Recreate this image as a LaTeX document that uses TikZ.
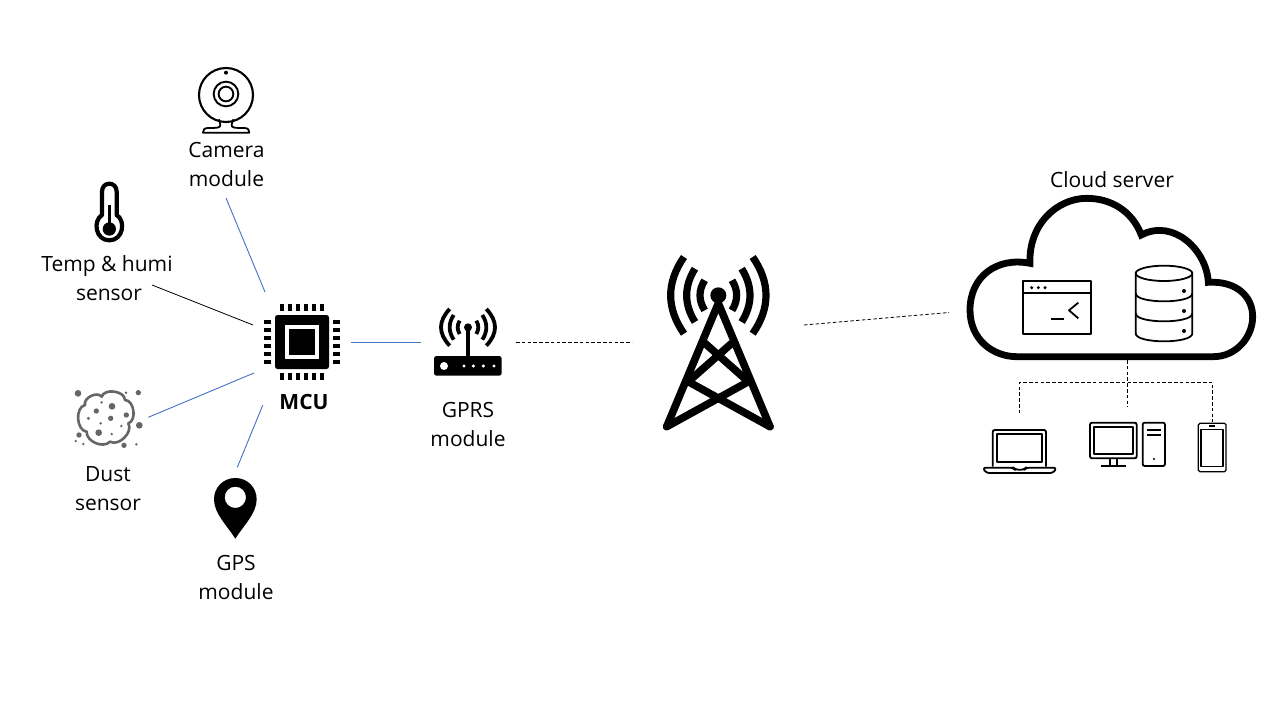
\documentclass[tikz,border=0pt]{standalone}
\usepackage{fontspec}
\setmainfont{Open Sans}
\definecolor{linkblue}{HTML}{4472C4}
\definecolor{dustgray}{HTML}{666666}
\tikzset{
  x=1pt,y=-1pt,
  zoomed/.style={shift={(#1)},x=0.33333pt,y=-0.33333pt},
  label/.style={align=center,inner sep=0pt,font=\fontsize{21}{29}\selectfont},
  bluelink/.style={draw=linkblue,line width=0.9pt},
  blacklink/.style={draw=black,line width=0.8pt},
  dashlink/.style={draw=black,line width=0.8pt,dash pattern=on 3.6pt off 2.2pt},
  thinicon/.style={draw=black,line width=1.8pt,line join=round},
}
\newcommand{\wavepair}[5]{% cx, cy, end dx, end dy, apex offset
  \pgfmathsetmacro{\wc}{#3+4/3*(#5-#3)}
  \pgfmathsetmacro{\wy}{#4/3}
  \draw (#1-#3,#2-#4) .. controls (#1-\wc,#2-\wy) and (#1-\wc,#2+\wy) .. (#1-#3,#2+#4);
  \draw (#1+#3,#2-#4) .. controls (#1+\wc,#2-\wy) and (#1+\wc,#2+\wy) .. (#1+#3,#2+#4);
}
\begin{document}
\begin{tikzpicture}
\useasboundingbox (0,0) rectangle (1280,720);
\fill[white] (0,0) rectangle (1280,720);

% ---- labels
\node[label] (lcamera) at (226.5,164) {Camera\\module};
\node[label] (ltemp) at (107,278.5) {Temp \& humi\\\hspace*{4pt}sensor};
\node[label] (ldust) at (108,489) {Dust\\sensor};
\node[label] (lgps) at (236,577) {GPS\\module};
\node[label] (lgprs) at (468,424) {GPRS\\module};
\node[label,font=\fontsize{21}{29}\selectfont\bfseries] (lmcu) at (304,401.5) {MCU};
\node[label] (lcloud) at (1112,180) {Cloud server};

% ---- connector ends
\coordinate (camE) at (226,198);
\coordinate (camM) at (265,292);
\coordinate (tempE) at (152,285);
\coordinate (tempM) at (253,325);
\coordinate (dustE) at (148.3,417.3);
\coordinate (dustM) at (254,373);
\coordinate (gpsE) at (237.3,467.3);
\coordinate (gpsM) at (262.7,405.3);
\coordinate (mcuR) at (351,342.5);
\coordinate (gprsL) at (421,342.5);
\coordinate (gprsR) at (516,342.5);
\coordinate (towerL) at (632,342.5);
\coordinate (towerR) at (804,325);
\coordinate (cloudL) at (949,312.5);
\coordinate (cloudB) at (1127.7,360);
\coordinate (pcT) at (1127.7,406.7);
\coordinate (lapC) at (1019.3,382.3);
\coordinate (lapT) at (1019.3,413.3);
\coordinate (phoC) at (1212.3,382.3);
\coordinate (phoT) at (1212.3,421.7);

\draw[bluelink] (camE) -- (camM);
\draw[blacklink] (tempE) -- (tempM);
\draw[bluelink] (dustE) -- (dustM);
\draw[bluelink] (gpsE) -- (gpsM);
\draw[bluelink] (mcuR) -- (gprsL);
\draw[dashlink] (gprsR) -- (towerL);
\draw[dashlink] (towerR) -- (cloudL);
\draw[dashlink] (cloudB) -- (pcT);
\draw[dashlink] (lapT) -- (lapC) -- (phoC) -- (phoT);

% ---- camera
\begin{scope}[zoomed={20,50}]
  \draw[line width=2.1pt] (618,135) circle (81);
  \draw[line width=1.9pt] (618,132) circle (37);
  \draw[line width=1.9pt] (618,132) circle (22);
  \fill (618,68) circle (6);
  \draw[line width=1.8pt,line join=round] (597,208) -- (601,224) .. controls (602,234) and (590,234) .. (565,234)
     .. controls (552,234) and (549,240) .. (549,248) -- (688,248)
     .. controls (688,240) and (685,234) .. (672,234) .. controls (645,234) and (633,234) .. (635,224) -- (640,208);
\end{scope}

% ---- thermometer
\begin{scope}[zoomed={20,50}]
  \draw[line width=4.2pt,line join=round] (246,495) -- (246,425) .. controls (246,393) and (290,393) .. (290,425) -- (290,495)
    .. controls (318,512) and (310,571) .. (268,571) .. controls (226,571) and (218,512) .. (246,495) -- cycle;
  \draw[line width=2.4pt] (268,465) -- (268,530);
  \fill (268,537) circle (20);
\end{scope}

% ---- MCU
\fill[rounded corners=2.5pt] (275,315) rectangle (329,369);
\fill[white] (285,325) rectangle (319,359);
\fill (289,329) rectangle (315,355);
\foreach \i in {0,...,5}{
  \fill (280+8*\i,304) rectangle (284+8*\i,310.7);
  \fill (280+8*\i,373.3) rectangle (284+8*\i,380);
  \fill (264,320+8*\i) rectangle (271,324+8*\i);
  \fill (333.3,320+8*\i) rectangle (340,324+8*\i);
}

% ---- dust
\begin{scope}[zoomed={40,290}]
  \draw[dustgray,line width=2.6pt,line join=round] (135,345) to[bend left=80] (185,320) to[bend left=80] (255,330)
    to[bend left=80] (265,400) to[bend left=75] (210,455) to[bend left=70] (140,425)
    to[bend left=80] cycle;
  \foreach \px/\py/\r in {114/310/10,295/308/8,258/308/4,185/337/4,216/349/10,169/363/8,259/375/8,145/385/5,212/385/8,182/400/4,244/408/4,298/406/10,176/428/10,215/432/4,117/435/8,107/453/4,130/462/4,252/466/8,289/463/4}
    \fill[dustgray] (\px,\py) circle (\r);
\end{scope}

% ---- GPS pin
\begin{scope}[zoomed={40,290}]
  \fill[even odd rule] (586,746) .. controls (560,705) and (522,670) .. (522,628) .. controls (522,592) and (550,564) .. (586,564)
     .. controls (622,564) and (650,592) .. (650,628) .. controls (650,670) and (612,705) .. (586,746) -- cycle
     (586,622) circle (32);
\end{scope}

% ---- router
\begin{scope}[zoomed={420,240}]
  \fill[rounded corners=2.5pt] (42,348) rectangle (245,407);
  \fill[white] (72,378) circle (12);
  \foreach \px in {132,160,190,222} \fill[white] (\px,378) circle (5);
  \draw[line width=3.2pt] (144,262) -- (144,350);
  \fill (144,262) circle (12);
  \begin{scope}[line width=3.8pt]
    \wavepair{144}{262}{25}{20}{31}
    \wavepair{144}{262}{43}{37}{55}
    \wavepair{144}{262}{55}{55}{81}
  \end{scope}
\end{scope}

% ---- tower
\begin{scope}[zoomed={420,240}]
  \fill (895,166) circle (24);
  \begin{scope}[line width=7.6pt,line cap=round,line join=round]
    \draw (740,560) -- (895,190) -- (1050,560);
    \draw (740,560) -- (985,425);
    \draw (1050,560) -- (805,425);
    \draw (805,425) -- (935,310);
    \draw (985,425) -- (855,310);
  \end{scope}
  \begin{scope}[line width=7.2pt]
    \wavepair{895}{166}{41}{45}{55}
    \wavepair{895}{166}{70}{80}{95}
    \wavepair{895}{166}{103}{115}{143}
  \end{scope}
\end{scope}

% ---- cloud
\begin{scope}[zoomed={950,160}]
  \draw[line width=6.8pt,line join=miter] (240,310) .. controls (140,290) and (60,350) .. (60,450)
    .. controls (60,540) and (130,590) .. (200,590) -- (790,590)
    .. controls (860,590) and (908,530) .. (908,470) .. controls (908,410) and (860,362) .. (775,367)
    .. controls (770,270) and (670,175) .. (574,225) .. controls (545,150) and (480,115) .. (410,115)
    .. controls (320,115) and (235,195) .. (240,310) -- cycle;
  % console window
  \draw[thinicon] (218,363) rectangle (422,522);
  \draw[thinicon] (218,400) -- (422,400);
  \foreach \px in {245,265,285} \fill (\px,383) circle (5);
  \draw[thinicon] (303,477) -- (343,477);
  \draw[thinicon] (385,428) -- (357,451) -- (385,475);
  % database
  \draw[thinicon] (642,340) ellipse (85 and 23);
  \draw[thinicon] (557,340) -- (557,520) .. controls (557,552) and (727,552) .. (727,520) -- (727,340);
  \draw[thinicon] (557,400) .. controls (557,432) and (727,432) .. (727,400);
  \draw[thinicon] (557,460) .. controls (557,492) and (727,492) .. (727,460);
  \foreach \py in {393,453,513} \fill (702,\py) circle (6);
\end{scope}

% ---- devices
\begin{scope}[zoomed={970,350}]
  % laptop
  \draw[thinicon,rounded corners=2pt] (68,350) -- (68,240) -- (228,240) -- (228,350);
  \draw[thinicon] (80,252) rectangle (217,335);
  \draw[thinicon,rounded corners=3pt] (38,353) -- (130,353) -- (135,359) -- (163,359) -- (168,353) -- (260,353) -- (250,369) -- (48,369) -- cycle;
  % monitor
  \draw[thinicon,rounded corners=2pt] (360,218) rectangle (500,325);
  \draw[thinicon] (373,230) rectangle (488,313);
  \draw[thinicon] (420,325) -- (420,347);
  \draw[thinicon] (440,325) -- (440,347);
  \draw[thinicon] (393,348) -- (468,348);
  % tower pc
  \draw[thinicon,rounded corners=2pt] (518,218) rectangle (585,348);
  \draw[thinicon] (530,240) -- (572,240);
  \draw[thinicon] (530,255) -- (572,255);
  \fill (552,327) circle (3.5);
  % phone
  \draw[thinicon,line width=1.3pt,rounded corners=1.5pt] (685,220) rectangle (768,365);
  \draw[thinicon,line width=1.3pt] (693,238) rectangle (759,350);
  \draw[thinicon] (717,229) -- (735,229);
\end{scope}
\end{tikzpicture}
\end{document}
